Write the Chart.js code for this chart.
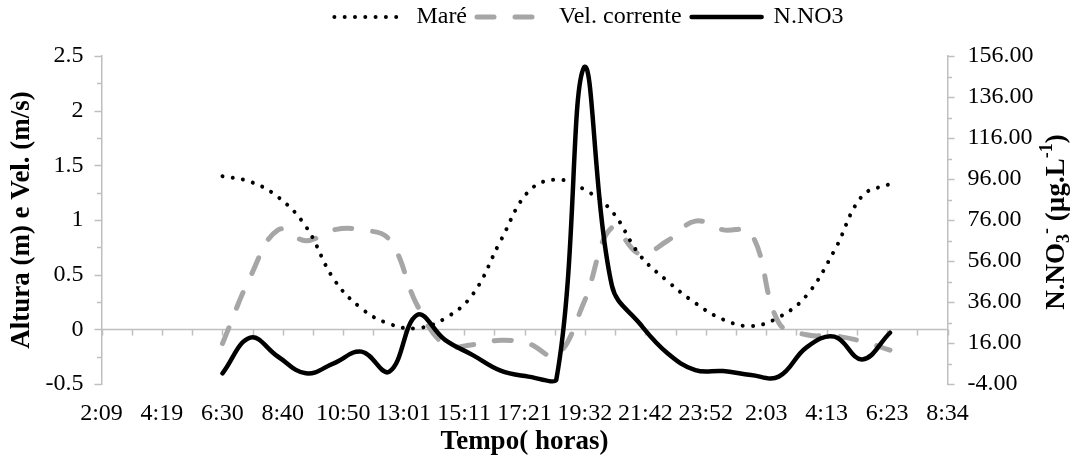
<!DOCTYPE html>
<html>
<head>
<meta charset="utf-8">
<script src="https://cdn.jsdelivr.net/npm/chart.js@4.4.0/dist/chart.umd.min.js"></script>
<style>
html,body{margin:0;padding:0;background:#ffffff;}
#wrap{width:1076px;height:465px;}
</style>
</head>
<body>
<div id="wrap"><canvas id="c" width="1076" height="465"></canvas></div>
<script>
// ---- data ----
const sampleTimes = ['6:30','7:30','8:30','9:30','10:30','11:30','12:30','13:30','14:30','15:30','16:30','17:30','18:30','19:30','20:30','21:30','22:30','23:30','0:30','1:30','2:30','3:30','4:30','5:30','6:30'];
const mare = [1.40,1.35,1.21,0.94,0.46,0.19,0.05,0.01,0.10,0.32,0.81,1.26,1.37,1.28,1.08,0.68,0.44,0.24,0.09,0.03,0.11,0.31,0.72,1.22,1.33];
const velCorrente = [-0.13,0.48,0.91,0.81,0.91,0.91,0.82,0.22,-0.14,-0.14,-0.10,-0.13,-0.24,0.25,0.93,0.69,0.81,0.99,0.91,0.88,0.06,-0.05,-0.06,-0.11,-0.19];
const nno3 = [1.2,18.6,9.3,1.2,6.1,11.8,2.0,29.7,17.5,10.1,2.5,-0.4,-2.0,150.5,44.0,25.5,11.0,2.8,2.3,0.4,-0.4,13.9,19.1,8.0,21.0];
const xTickLabels = ['2:09','4:19','6:30','8:40','10:50','13:01','15:11','17:21','19:32','21:42','23:52','2:03','4:13','6:23','8:34'];
const leftTickLabels = ['-0.5','0','0.5','1','1.5','2','2.5'];
const rightTickLabels = ['-4.00','16.00','36.00','56.00','76.00','96.00','116.00','136.00','156.00'];

// ---- helpers ----
function toMinutesSeq(list){
  const out=[]; let dayOffset=0; let prev=-1;
  list.forEach(t=>{ const [h,m]=t.split(':').map(Number); let v=h*60+m; if(v+dayOffset<prev){dayOffset+=1440;} v+=dayOffset; out.push(v); prev=v; });
  return out;
}
const xs = toMinutesSeq(sampleTimes);
const xAxisTimes = toMinutesSeq([xTickLabels[0], '12:00', xTickLabels[xTickLabels.length-1]]);
const X_MIN = xAxisTimes[0];
const X_MAX = xAxisTimes[2];
const X_STEP = (X_MAX - X_MIN) / (xTickLabels.length - 1);
const pts = (arr) => arr.map((v,i)=>({x:xs[i], y:v}));

const AXIS_COLOR = '#bfbfbf';
const FONT = "'Liberation Serif', 'Times New Roman', serif";
Chart.defaults.font.family = FONT;
Chart.defaults.color = '#000';

// draws the zero line, its tick marks and axis tick marks using the scales
const axisDecor = {
  id:'axisDecor',
  beforeDatasetsDraw(chart){
    const {ctx, chartArea, scales} = chart;
    const x = scales.x, y = scales.y, y2 = scales.y2;
    ctx.save();
    ctx.strokeStyle = AXIS_COLOR;
    ctx.lineWidth = 1.5;
    const y0 = Math.round(y.getPixelForValue(0)) + 0.5;
    ctx.beginPath();
    ctx.moveTo(chartArea.left, y0); ctx.lineTo(chartArea.right, y0);
    for(let k=0;k<=2*(xTickLabels.length-1);k++){
      const px = Math.round(x.getPixelForValue(X_MIN + k*X_STEP/2)) + 0.5;
      ctx.moveTo(px, y0); ctx.lineTo(px, y0+6);
    }
    for(let v=-0.5; v<=2.5001; v+=0.25){
      const py = Math.round(y.getPixelForValue(v)) + 0.5;
      const major = Math.abs(v*2 - Math.round(v*2)) < 1e-6;
      const len = major ? 7 : 4.5;
      ctx.moveTo(chartArea.left - len, py); ctx.lineTo(chartArea.left, py);
    }
    for(let v=-4; v<=156.001; v+=10){
      const py = Math.round(y2.getPixelForValue(v)) + 0.5;
      const major = Math.round((v+4)/10) % 2 === 0;
      const len = major ? 7 : 4.5;
      ctx.moveTo(chartArea.right, py); ctx.lineTo(chartArea.right + len, py);
    }
    ctx.stroke();
    ctx.restore();
  }
};

// right axis title with subscript / superscripts, reading bottom-to-top
const rightTitle = {
  id:'rightTitle',
  afterDraw(chart){
    const {ctx, chartArea, scales} = chart;
    const big = "bold 27px " + FONT, small = "bold 18px " + FONT;
    const parts = [
      {t:'N.NO', f:big, dy:0},
      {t:'3', f:small, dy:7},
      {t:'-', f:small, dy:-10},
      {t:' (µg.L', f:big, dy:0},
      {t:'-1', f:small, dy:-10},
      {t:')', f:big, dy:0}
    ];
    ctx.save();
    let w=0; parts.forEach(p=>{ctx.font=p.f; p.w=ctx.measureText(p.t).width; w+=p.w;});
    const cx = scales.y2.right - 19;
    const cy = (chartArea.top + chartArea.bottom)/2 + 2;
    ctx.translate(cx, cy);
    ctx.rotate(-Math.PI/2);
    ctx.fillStyle = '#000';
    ctx.textBaseline = 'middle';
    ctx.textAlign = 'left';
    let xx = -w/2;
    parts.forEach(p=>{ctx.font=p.f; ctx.fillText(p.t, xx, p.dy); xx+=p.w;});
    ctx.restore();
  }
};

const legendTweak = {
  id:'legendTweak',
  beforeInit(chart){
    const L = chart.legend;
    if(!L) return;
    const fit = L.fit;
    L.fit = function(){ fit.call(this); this.height = 56; };
  },
  afterLayout(chart){
    if(chart.legend){
      chart.legend.left += 51; chart.legend.right += 51;
      chart.legend.top -= 5; chart.legend.bottom -= 5;
    }
  }
};

const baseGenerate = Chart.defaults.plugins.legend.labels.generateLabels;

new Chart(document.getElementById('c'), {
  type:'line',
  data:{
    datasets:[
      {label:'Maré', data:pts(mare), yAxisID:'y', borderColor:'#000', backgroundColor:'#000', borderWidth:4, borderDash:[0.001,10.3], borderCapStyle:'round', pointRadius:0, tension:0.4, order:1},
      {label:'Vel. corrente', data:pts(velCorrente), yAxisID:'y', borderColor:'#a6a6a6', backgroundColor:'#a6a6a6', borderWidth:5, borderDash:[17,21], borderCapStyle:'round', pointRadius:0, tension:0.4, order:2},
      {label:'N.NO3', data:pts(nno3), yAxisID:'y2', borderColor:'#000', backgroundColor:'#000', borderWidth:4.5, borderCapStyle:'round', borderJoinStyle:'round', pointRadius:0, tension:0.4, order:0}
    ]
  },
  options:{
    responsive:false,
    maintainAspectRatio:false,
    devicePixelRatio:1,
    animation:false,
    layout:{padding:0},
    plugins:{
      tooltip:{enabled:false},
      legend:{
        display:true, position:'top', align:'center',
        labels:{
          usePointStyle:true, pointStyle:'line', pointStyleWidth:70, boxHeight:10,
          padding:10, color:'#000', font:{size:24, family:FONT},
          sort:(a,b)=>a.datasetIndex-b.datasetIndex,
          generateLabels:(chart)=>baseGenerate(chart).map(item=>{
            const ds = chart.data.datasets[item.datasetIndex];
            item.lineDash = ds.borderDash || [];
            item.lineWidth = ds.borderWidth;
            item.lineCap = ds.borderCapStyle;
            item.strokeStyle = ds.borderColor;
            item.fillStyle = ds.borderColor;
            item.pointStyle = 'line';
            return item;
          })
        }
      }
    },
    scales:{
      x:{
        type:'linear', position:'bottom', min:X_MIN, max:X_MAX,
        grid:{display:false, drawTicks:false},
        border:{display:false},
        ticks:{stepSize:X_STEP, autoSkip:false, maxRotation:0, padding:15, color:'#000', font:{size:24},
          callback:(v,i)=>xTickLabels[i]},
        title:{display:true, text:'Tempo( horas)', color:'#000', font:{size:27, weight:'bold'}, padding:{top:0,bottom:7}},
        afterFit:(s)=>{s.height = 81;}
      },
      y:{
        type:'linear', position:'left', min:-0.5, max:2.5,
        grid:{display:false, drawTicks:false},
        border:{display:true, color:AXIS_COLOR, width:1.5},
        ticks:{stepSize:0.5, padding:18, color:'#000', font:{size:24}, callback:(v,i)=>leftTickLabels[i]},
        title:{display:true, text:'Altura (m) e Vel. (m/s)', color:'#000', font:{size:27, weight:'bold'}, padding:{top:6,bottom:0}},
        afterFit:(s)=>{s.width = 101.5;}
      },
      y2:{
        type:'linear', position:'right', min:-4, max:156,
        grid:{display:false, drawTicks:false},
        border:{display:true, color:AXIS_COLOR, width:1.5},
        ticks:{stepSize:20, padding:20, color:'#000', font:{size:24}, callback:(v,i)=>rightTickLabels[i]},
        afterFit:(s)=>{s.width = 128.5;}
      }
    }
  },
  plugins:[axisDecor, rightTitle, legendTweak]
});
</script>
</body>
</html>
